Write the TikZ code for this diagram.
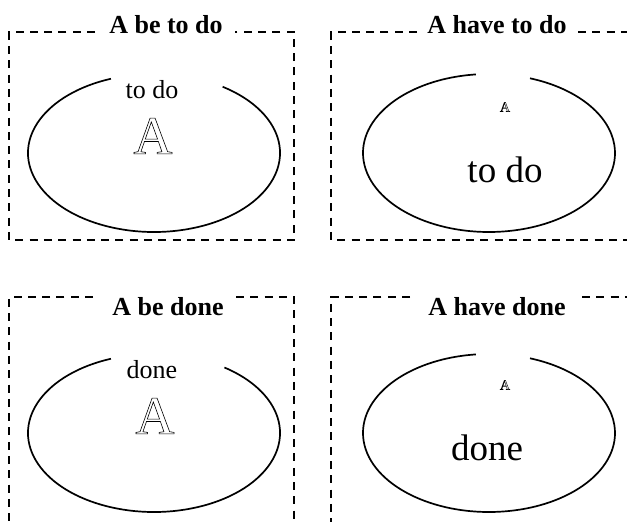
\documentclass[tikz,border=0pt]{standalone}
\usepackage{fontspec}
\setmainfont{Liberation Serif}
\usetikzlibrary{positioning}
\newcommand{\hollowA}[2]{{\fontsize{#1}{#1}\selectfont\special{pdf:literal direct 1 Tr #2 w}A\special{pdf:literal direct 0 Tr}}}

\begin{document}
\begin{tikzpicture}[x=1pt,y=1pt,
  frame/.style={draw,line width=1.5pt,dash pattern=on 8pt off 6.3pt},
  ring/.style={draw,line width=1.7pt},
  ttl/.style={font=\fontsize{26}{26}\selectfont\bfseries,inner sep=0pt},
  sml/.style={font=\fontsize{26}{26}\selectfont,inner sep=0pt},
  big/.style={font=\fontsize{37}{37}\selectfont,inner sep=0pt}]
\useasboundingbox (0,0) rectangle (627,522);
\clip (0,0) rectangle (627,522);
% ---------- top left: A be to do ----------
\node[ttl] (t1) at (166,497) {A be to do};
\draw[frame] (95,490) -- (9,490) -- (9,282) -- (294,282) -- (294,490) -- (235,490);
\draw[ring] ([shift={(110:126 and 79)}]154,369) arc[start angle=110,end angle=417,x radius=126,y radius=79];
\node[sml] (l1) at (152,432) {to do};
\node[inner sep=0pt] (a1) at (153,386) {\hollowA{54}{0.6}};
% ---------- top right: A have to do ----------
\node[ttl] (t2) at (497,497) {A have to do};
\draw[frame] (417,490) -- (331,490) -- (331,282) -- (640,282);
\draw[frame] (578,490) -- (640,490);
\draw[ring] ([shift={(96:126 and 79)}]489,369) arc[start angle=96,end angle=431,x radius=126,y radius=79];
\node[inner sep=0pt] (a2) at (505,415) {\hollowA{14}{0.4}};
\node[big] (l2) at (505,352) {to do};
% ---------- bottom left: A be done ----------
\node[ttl] (t3) at (168,215) {A be done};
\draw[frame] (93,225) -- (9,225) -- (9,-10);
\draw[frame] (236,225) -- (294,225) -- (294,-10);
\draw[ring] ([shift={(110:126 and 79)}]154,89) arc[start angle=110,end angle=416,x radius=126,y radius=79];
\node[sml] (l3) at (152,152) {done};
\node[inner sep=0pt] (a3) at (155,106) {\hollowA{54}{0.6}};
% ---------- bottom right: A have done ----------
\node[ttl] (t4) at (497,215) {A have done};
\draw[frame] (410,225) -- (331,225) -- (331,-10);
\draw[frame] (582,225) -- (640,225);
\draw[ring] ([shift={(96:126 and 79)}]489,89) arc[start angle=96,end angle=431,x radius=126,y radius=79];
\node[inner sep=0pt] (a4) at (505,137) {\hollowA{14}{0.4}};
\node[big] (l4) at (487,74) {done};
\end{tikzpicture}
\end{document}
